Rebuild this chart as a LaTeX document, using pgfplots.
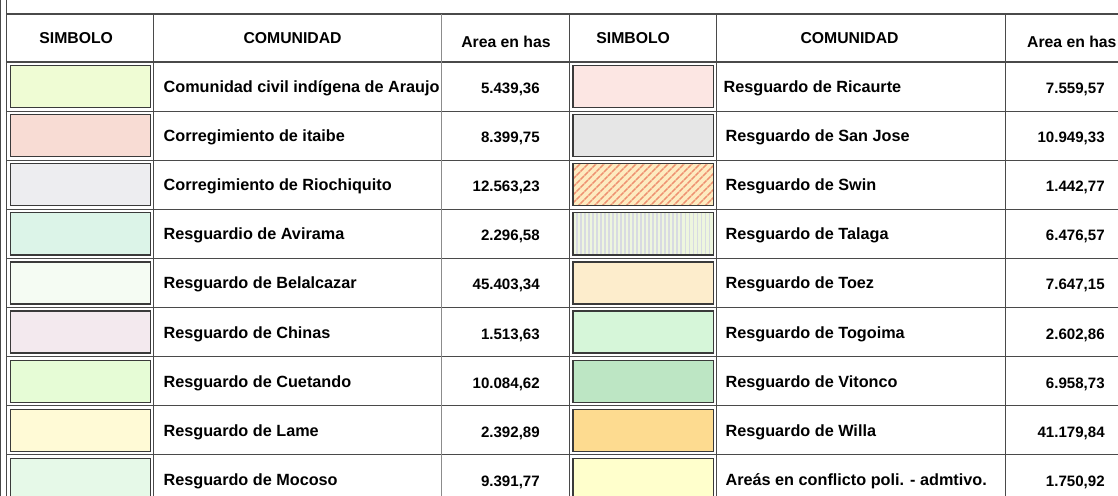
\documentclass[border=0pt]{standalone}
\usepackage{pgfplots}
\pgfplotsset{compat=1.18}
\usepackage{fontspec}
\setmainfont{Liberation Sans}
\usetikzlibrary{patterns.meta}
\definecolor{gl}{HTML}{4A4A4A}
\definecolor{gll}{HTML}{8C8C8C}
\definecolor{swb}{HTML}{3A3A3A}
\definecolor{cLa}{HTML}{EFFCD4}
\definecolor{cLb}{HTML}{F8DCD4}
\definecolor{cLc}{HTML}{EDEDF0}
\definecolor{cLd}{HTML}{DCF4E8}
\definecolor{cLe}{HTML}{F5FCF3}
\definecolor{cLf}{HTML}{F3E9EE}
\definecolor{cLg}{HTML}{E6FCD6}
\definecolor{cLh}{HTML}{FFFAD6}
\definecolor{cLi}{HTML}{E6F9E8}
\definecolor{cRa}{HTML}{FCE6E3}
\definecolor{cRb}{HTML}{E6E6E6}
\definecolor{cRc}{HTML}{FDEBC0}
\definecolor{cRcl}{HTML}{EE9070}
\definecolor{cRd}{HTML}{EEF6DE}
\definecolor{cRdl}{HTML}{D8DAE2}
\definecolor{cRe}{HTML}{FDEDCC}
\definecolor{cRf}{HTML}{D6F6D9}
\definecolor{cRg}{HTML}{BDE6C4}
\definecolor{cRh}{HTML}{FDDB90}
\definecolor{cRi}{HTML}{FFFFCC}
\newcommand{\hfont}{\fontsize{11.8}{14}\selectfont\bfseries}
\newcommand{\nfont}{\fontsize{12.15}{14}\selectfont\bfseries}
\newcommand{\vfont}{\fontsize{11.3}{14}\selectfont\bfseries}
\begin{document}
\begin{tikzpicture}
\begin{axis}[scale only axis, width=838.5pt, height=371.25pt,
  xmin=0, xmax=1118, ymin=0, ymax=495, y dir=reverse, hide axis, clip=true]
% ---- swatches, left table
\addplot[fill=cLa, draw=swb, line width=0.9pt] coordinates {(12,65.5)(152,65.5)(152,107.5)(12,107.5)} -- cycle;
\addplot[fill=cLb, draw=swb, line width=0.9pt] coordinates {(12,114.5)(152,114.5)(152,156.5)(12,156.5)} -- cycle;
\addplot[fill=cLc, draw=swb, line width=0.9pt] coordinates {(12,163.5)(152,163.5)(152,205.5)(12,205.5)} -- cycle;
\addplot[fill=cLd, draw=swb, line width=0.9pt] coordinates {(12,212.5)(152,212.5)(152,254.5)(12,254.5)} -- cycle;
\addplot[fill=cLe, draw=swb, line width=0.9pt] coordinates {(12,261.5)(152,261.5)(152,303.5)(12,303.5)} -- cycle;
\addplot[fill=cLf, draw=swb, line width=0.9pt] coordinates {(12,310.5)(152,310.5)(152,352.5)(12,352.5)} -- cycle;
\addplot[fill=cLg, draw=swb, line width=0.9pt] coordinates {(12,359.5)(152,359.5)(152,401.5)(12,401.5)} -- cycle;
\addplot[fill=cLh, draw=swb, line width=0.9pt] coordinates {(12,408.5)(152,408.5)(152,450.5)(12,450.5)} -- cycle;
\addplot[fill=cLi, draw=swb, line width=0.9pt] coordinates {(12,457.5)(152,457.5)(152,499.5)(12,499.5)} -- cycle;
% ---- swatches, right table
\addplot[fill=cRa, draw=swb, line width=0.9pt] coordinates {(574,65.5)(714,65.5)(714,107.5)(574,107.5)} -- cycle;
\addplot[fill=cRb, draw=swb, line width=0.9pt] coordinates {(574,114.5)(714,114.5)(714,156.5)(574,156.5)} -- cycle;
\addplot[fill=cRc, draw=none] coordinates {(574,163.5)(714,163.5)(714,205.5)(574,205.5)} -- cycle;
\addplot[pattern={Lines[angle=45,distance=4pt,line width=1.2pt]}, pattern color=cRcl, draw=swb, line width=0.9pt] coordinates {(574,163.5)(714,163.5)(714,205.5)(574,205.5)} -- cycle;
\addplot[fill=cRd, draw=none] coordinates {(574,212.5)(714,212.5)(714,254.5)(574,254.5)} -- cycle;
\addplot[pattern={Lines[angle=90,distance=3pt,line width=1pt]}, pattern color=cRdl, draw=swb, line width=0.9pt] coordinates {(574,212.5)(714,212.5)(714,254.5)(574,254.5)} -- cycle;
\addplot[fill=cRe, draw=swb, line width=0.9pt] coordinates {(574,261.5)(714,261.5)(714,303.5)(574,303.5)} -- cycle;
\addplot[fill=cRf, draw=swb, line width=0.9pt] coordinates {(574,310.5)(714,310.5)(714,352.5)(574,352.5)} -- cycle;
\addplot[fill=cRg, draw=swb, line width=0.9pt] coordinates {(574,359.5)(714,359.5)(714,401.5)(574,401.5)} -- cycle;
\addplot[fill=cRh, draw=swb, line width=0.9pt] coordinates {(574,408.5)(714,408.5)(714,450.5)(574,450.5)} -- cycle;
\addplot[fill=cRi, draw=swb, line width=0.9pt] coordinates {(574,457.5)(714,457.5)(714,499.5)(574,499.5)} -- cycle;
% ---- grid lines
\addplot[gl, line width=0.9pt] coordinates {(2.5,0)(2.5,495)};
\addplot[gl, line width=0.9pt] coordinates {(8,0)(8,495)};
\addplot[gl, line width=1pt] coordinates {(8,14)(1118,14)};
\addplot[gl, line width=1pt] coordinates {(8,62)(1118,62)};
\addplot[gl, line width=0.9pt] coordinates {(8,111)(1118,111)};
\addplot[gl, line width=0.9pt] coordinates {(8,160)(1118,160)};
\addplot[gl, line width=0.9pt] coordinates {(8,209)(1118,209)};
\addplot[gl, line width=0.9pt] coordinates {(8,258)(1118,258)};
\addplot[gl, line width=0.9pt] coordinates {(8,307)(1118,307)};
\addplot[gl, line width=0.9pt] coordinates {(8,356)(1118,356)};
\addplot[gl, line width=0.9pt] coordinates {(8,405)(1118,405)};
\addplot[gl, line width=0.9pt] coordinates {(8,454)(1118,454)};
\addplot[gl, line width=0.9pt] coordinates {(155,14)(155,495)};
\addplot[gll, line width=0.9pt] coordinates {(443,14)(443,495)};
\addplot[gl, line width=1pt] coordinates {(570.5,14)(570.5,495)};
\addplot[gl, line width=0.9pt] coordinates {(717,14)(717,495)};
\addplot[gl, line width=0.9pt] coordinates {(1005.5,14)(1005.5,495)};
% ---- headers
\node[font=\hfont, anchor=base, inner sep=0pt] at (axis cs:78,43.5) {SIMBOLO};
\node[font=\hfont, anchor=base, inner sep=0pt] at (axis cs:294,43.5) {COMUNIDAD};
\node[font=\hfont, anchor=base, inner sep=0pt] at (axis cs:507,47.5) {Area en has};
\node[font=\hfont, anchor=base, inner sep=0pt] at (axis cs:634,43.5) {SIMBOLO};
\node[font=\hfont, anchor=base, inner sep=0pt] at (axis cs:850,43.5) {COMUNIDAD};
\node[font=\hfont, anchor=base west, inner sep=0pt] at (axis cs:1027,47.5) {Area en has};
% ---- names left
\node[font=\nfont, anchor=base west, inner sep=0pt] at (axis cs:165,92.5) {Comunidad civil indígena de Araujo};
\node[font=\nfont, anchor=base west, inner sep=0pt] at (axis cs:165,141.5) {Corregimiento de itaibe};
\node[font=\nfont, anchor=base west, inner sep=0pt] at (axis cs:165,190.5) {Corregimiento de Riochiquito};
\node[font=\nfont, anchor=base west, inner sep=0pt] at (axis cs:165,239.5) {Resguardio de Avirama};
\node[font=\nfont, anchor=base west, inner sep=0pt] at (axis cs:165,288.5) {Resguardo de Belalcazar};
\node[font=\nfont, anchor=base west, inner sep=0pt] at (axis cs:165,337.5) {Resguardo de Chinas};
\node[font=\nfont, anchor=base west, inner sep=0pt] at (axis cs:165,386.5) {Resguardo de Cuetando};
\node[font=\nfont, anchor=base west, inner sep=0pt] at (axis cs:165,435.5) {Resguardo de Lame};
\node[font=\nfont, anchor=base west, inner sep=0pt] at (axis cs:165,484.5) {Resguardo de Mocoso};
% ---- values left
\node[font=\vfont, anchor=base east, inner sep=0pt] at (axis cs:541,93.5) {5.439,36};
\node[font=\vfont, anchor=base east, inner sep=0pt] at (axis cs:541,142.5) {8.399,75};
\node[font=\vfont, anchor=base east, inner sep=0pt] at (axis cs:541,191.5) {12.563,23};
\node[font=\vfont, anchor=base east, inner sep=0pt] at (axis cs:541,240.5) {2.296,58};
\node[font=\vfont, anchor=base east, inner sep=0pt] at (axis cs:541,289.5) {45.403,34};
\node[font=\vfont, anchor=base east, inner sep=0pt] at (axis cs:541,338.5) {1.513,63};
\node[font=\vfont, anchor=base east, inner sep=0pt] at (axis cs:541,387.5) {10.084,62};
\node[font=\vfont, anchor=base east, inner sep=0pt] at (axis cs:541,436.5) {2.392,89};
\node[font=\vfont, anchor=base east, inner sep=0pt] at (axis cs:541,485.5) {9.391,77};
% ---- names right
\node[font=\nfont, anchor=base west, inner sep=0pt] at (axis cs:724,92.5) {Resguardo de Ricaurte};
\node[font=\nfont, anchor=base west, inner sep=0pt] at (axis cs:726,141.5) {Resguardo de San Jose};
\node[font=\nfont, anchor=base west, inner sep=0pt] at (axis cs:726,190.5) {Resguardo de Swin};
\node[font=\nfont, anchor=base west, inner sep=0pt] at (axis cs:726,239.5) {Resguardo de Talaga};
\node[font=\nfont, anchor=base west, inner sep=0pt] at (axis cs:726,288.5) {Resguardo de Toez};
\node[font=\nfont, anchor=base west, inner sep=0pt] at (axis cs:726,337.5) {Resguardo de Togoima};
\node[font=\nfont, anchor=base west, inner sep=0pt] at (axis cs:726,386.5) {Resguardo de Vitonco};
\node[font=\nfont, anchor=base west, inner sep=0pt] at (axis cs:726,435.5) {Resguardo de Willa};
\node[font=\nfont, anchor=base west, inner sep=0pt] at (axis cs:726,484.5) {Areás en conflicto poli. - admtivo.};
% ---- values right
\node[font=\vfont, anchor=base east, inner sep=0pt] at (axis cs:1105,93.5) {7.559,57};
\node[font=\vfont, anchor=base east, inner sep=0pt] at (axis cs:1105,142.5) {10.949,33};
\node[font=\vfont, anchor=base east, inner sep=0pt] at (axis cs:1105,191.5) {1.442,77};
\node[font=\vfont, anchor=base east, inner sep=0pt] at (axis cs:1105,240.5) {6.476,57};
\node[font=\vfont, anchor=base east, inner sep=0pt] at (axis cs:1105,289.5) {7.647,15};
\node[font=\vfont, anchor=base east, inner sep=0pt] at (axis cs:1105,338.5) {2.602,86};
\node[font=\vfont, anchor=base east, inner sep=0pt] at (axis cs:1105,387.5) {6.958,73};
\node[font=\vfont, anchor=base east, inner sep=0pt] at (axis cs:1105,436.5) {41.179,84};
\node[font=\vfont, anchor=base east, inner sep=0pt] at (axis cs:1105,485.5) {1.750,92};
\end{axis}
\end{tikzpicture}
\end{document}
